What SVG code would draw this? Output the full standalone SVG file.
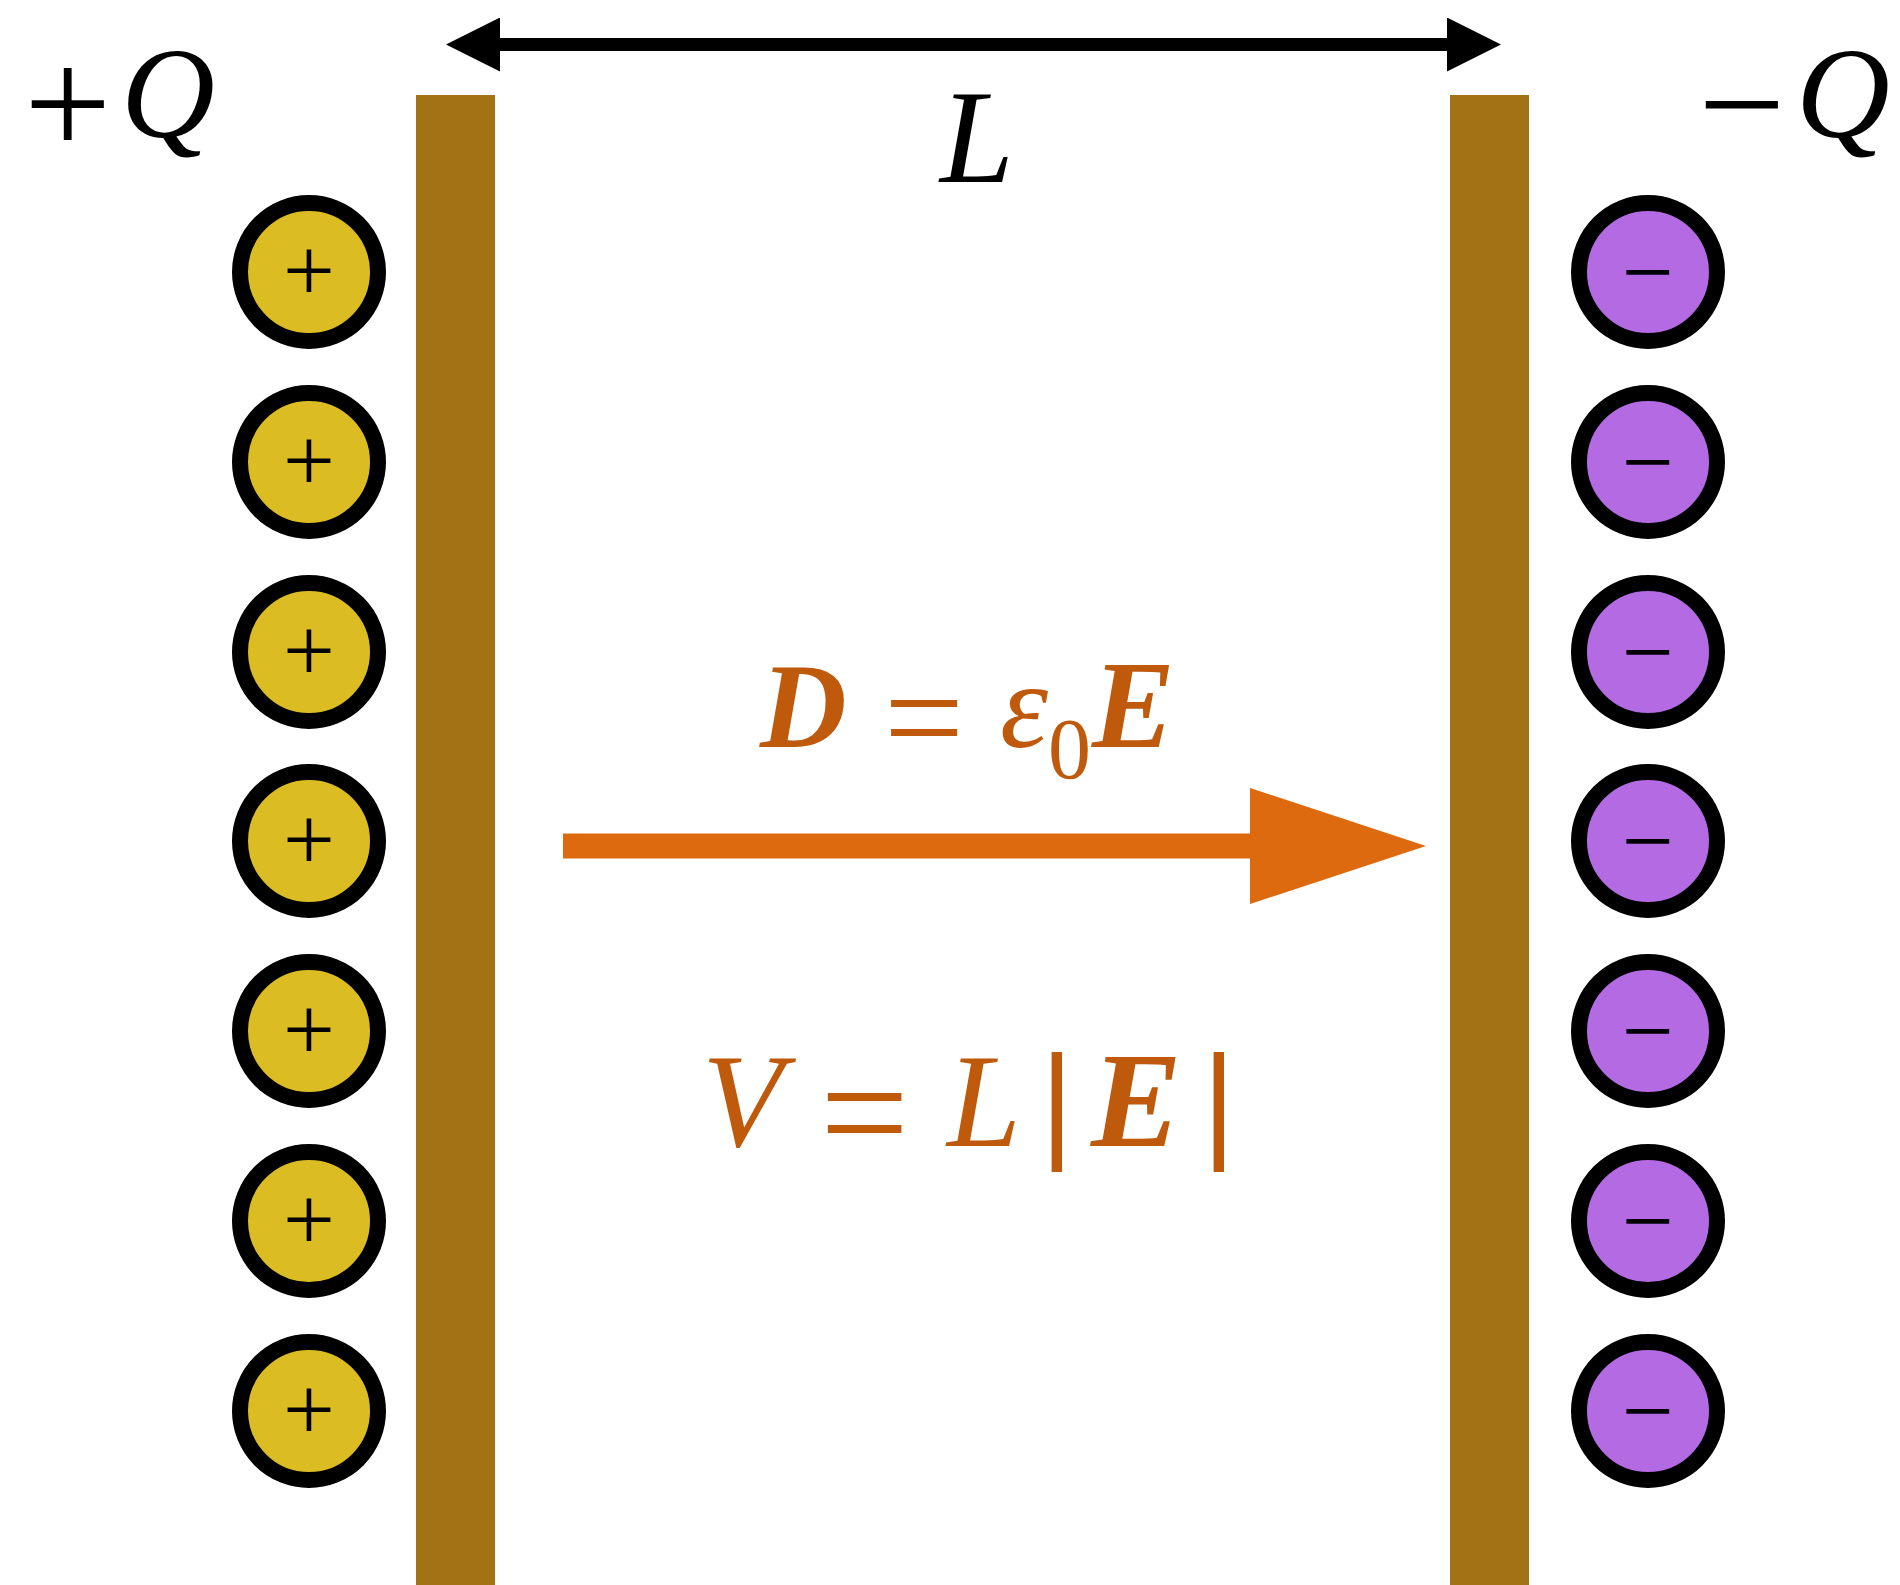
<svg xmlns="http://www.w3.org/2000/svg" width="1900" height="1585" viewBox="0 0 1900 1585">
<style>
.plate{fill:#a27314}
.pos circle{fill:#dbbd23;stroke:#000;stroke-width:16}
.neg circle{fill:#b36ae2;stroke:#000;stroke-width:16}
.sign{font-family:"Liberation Serif",serif;font-size:92px;fill:#000;text-anchor:middle}
.lbl{font-family:"Liberation Serif",serif;fill:#000}
.eq{font-family:"Liberation Serif",serif;fill:#bf5a0c}
.it{font-style:italic}
.bi{font-style:italic;font-weight:bold}
.bar{stroke:#bf5a0c;stroke-width:4}
</style>
<defs>
<marker id="ah" markerUnits="userSpaceOnUse" markerWidth="54" markerHeight="54" refX="0" refY="27" orient="auto-start-reverse" viewBox="0 0 54 54">
<path d="M0,0 L54,27 L0,54 Z" fill="#000"/>
</marker>
<marker id="oh" markerUnits="userSpaceOnUse" markerWidth="176" markerHeight="116" refX="0" refY="58" orient="auto" viewBox="0 0 176 116">
<path d="M0,0 L176,58 L0,116 Z" fill="#de6a10"/>
</marker>
</defs>
<rect width="1900" height="1585" fill="#fff"/>
<g id="plate-left"><rect class="plate" x="416" y="95" width="79" height="1490"/></g>
<g id="plate-right"><rect class="plate" x="1450" y="95" width="79" height="1490"/></g>
<g id="charges-positive" class="pos">
<g id="p1"><circle cx="309" cy="272" r="69"/><text class="sign" x="309" y="301">+</text></g>
<g id="p2"><circle cx="309" cy="462" r="69"/><text class="sign" x="309" y="491">+</text></g>
<g id="p3"><circle cx="309" cy="652" r="69"/><text class="sign" x="309" y="681">+</text></g>
<g id="p4"><circle cx="309" cy="841" r="69"/><text class="sign" x="309" y="870">+</text></g>
<g id="p5"><circle cx="309" cy="1031" r="69"/><text class="sign" x="309" y="1060">+</text></g>
<g id="p6"><circle cx="309" cy="1221" r="69"/><text class="sign" x="309" y="1250">+</text></g>
<g id="p7"><circle cx="309" cy="1411" r="69"/><text class="sign" x="309" y="1440">+</text></g>
</g>
<g id="charges-negative" class="neg">
<g id="n1"><circle cx="1648" cy="272" r="69"/><text class="sign" x="1648" y="303">−</text></g>
<g id="n2"><circle cx="1648" cy="462" r="69"/><text class="sign" x="1648" y="493">−</text></g>
<g id="n3"><circle cx="1648" cy="652" r="69"/><text class="sign" x="1648" y="683">−</text></g>
<g id="n4"><circle cx="1648" cy="841" r="69"/><text class="sign" x="1648" y="872">−</text></g>
<g id="n5"><circle cx="1648" cy="1031" r="69"/><text class="sign" x="1648" y="1062">−</text></g>
<g id="n6"><circle cx="1648" cy="1221" r="69"/><text class="sign" x="1648" y="1252">−</text></g>
<g id="n7"><circle cx="1648" cy="1411" r="69"/><text class="sign" x="1648" y="1442">−</text></g>
</g>
<g id="label-plusQ"><text class="lbl"><tspan x="24" y="156" font-size="155">+</tspan><tspan class="it" x="121" y="137" font-size="130">Q</tspan></text></g>
<g id="label-minusQ"><text class="lbl"><tspan x="1698" y="156" font-size="155">−</tspan><tspan class="it" x="1796" y="137" font-size="130">Q</tspan></text></g>
<g id="label-L"><text class="lbl it" x="940" y="182" font-size="133">L</text></g>
<g id="eq-D"><text class="eq"><tspan class="bi" x="760" y="747" font-size="120">D</tspan><tspan x="884" y="765" font-size="142">=</tspan><tspan class="it" x="1000" y="747" font-size="122">ε</tspan><tspan x="1048" y="778" font-size="86">0</tspan><tspan class="bi" x="1092" y="747" font-size="124">E</tspan></text></g>
<g id="eq-V"><text class="eq"><tspan class="it" x="702" y="1146" font-size="133">V</tspan><tspan x="820" y="1166" font-size="158">=</tspan><tspan class="it" x="947" y="1146" font-size="133">L</tspan><tspan class="bar" x="1044" y="1143" font-size="128">|</tspan><tspan class="bi" x="1091" y="1146" font-size="136">E</tspan><tspan class="bar" x="1206" y="1143" font-size="128">|</tspan></text></g>
<g id="connectors">
<line id="dim-L" x1="500" y1="44.5" x2="1447" y2="44.5" stroke="#000" stroke-width="13" marker-start="url(#ah)" marker-end="url(#ah)"/>
<line id="field" x1="563" y1="846" x2="1250" y2="846" stroke="#de6a10" stroke-width="25" marker-end="url(#oh)"/>
</g>
</svg>
